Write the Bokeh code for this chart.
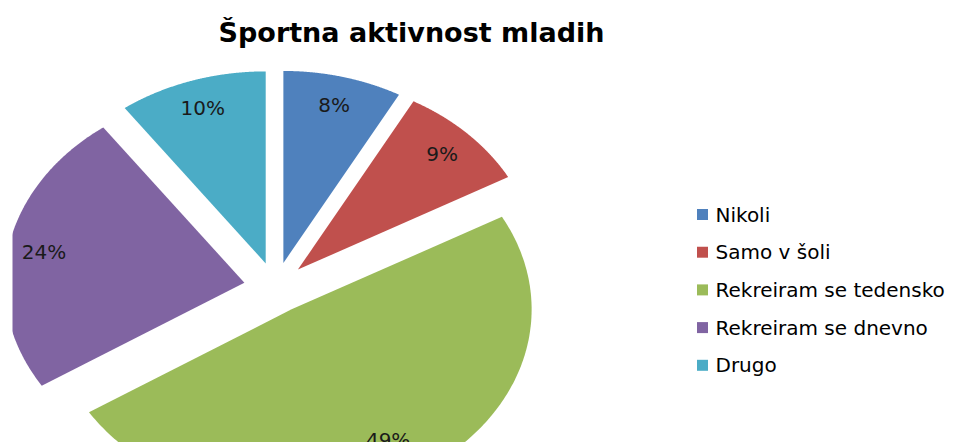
import numpy as np
from bokeh.plotting import figure
from bokeh.models import Range1d, ColumnDataSource
from bokeh.core.properties import value
from bokeh.embed import file_html
from bokeh.resources import INLINE

# ---- data ----
categories = ["Nikoli", "Samo v šoli", "Rekreiram se tedensko", "Rekreiram se dnevno", "Drugo"]
shares = [8, 9, 49, 24, 10]
colors = ["#4F81BD", "#C0504D", "#9BBB59", "#8064A2", "#4BACC6"]
title_text = "Športna aktivnost mladih"

# ---- layout (page pixel coordinates; y measured upward from bottom of window) ----
W_PAGE, H_PAGE = 962, 442
cx, cy = 275, H_PAGE - 287
rx, ry = 240, 192
explode = 0.132
label_r = [0.85, 0.85, 0.79, 0.85, 0.85]

p = figure(width=962, height=442, output_backend="svg", toolbar_location=None,
           x_range=Range1d(12, 962), y_range=Range1d(0, 442),
           x_axis_location=None, y_axis_location=None,
           min_border_left=12, min_border_right=0, min_border_top=0, min_border_bottom=0)
p.grid.visible = False
p.outline_line_color = None
p.background_fill_color = "white"
p.border_fill_color = "white"

vals = np.array(shares, dtype=float)
frac = vals / vals.sum()
ends = np.cumsum(frac) * 2 * np.pi
starts = ends - frac * 2 * np.pi

xs, ys, lx, ly, texts = [], [], [], [], []
for i, (a0, a1) in enumerate(zip(starts, ends)):
    mid = (a0 + a1) / 2
    vx = cx + explode * rx * np.sin(mid)
    vy = cy + explode * ry * np.cos(mid)
    th = np.linspace(a0, a1, 200)
    px = np.concatenate([[vx], vx + rx * np.sin(th)])
    py = np.concatenate([[vy], vy + ry * np.cos(th)])
    xs.append(list(px))
    ys.append(list(py))
    lx.append(vx + label_r[i] * rx * np.sin(mid))
    ly.append(vy + label_r[i] * ry * np.cos(mid))
    texts.append(f"{shares[i]}%")

src = ColumnDataSource(dict(xs=xs, ys=ys, color=colors, cat=categories))
p.patches("xs", "ys", source=src, fill_color="color", line_color=None)

p.text(x=lx, y=ly, text=texts, text_font=value("DejaVu Sans"), text_font_size="20px",
       text_color="#1a1a1a", text_align="center", text_baseline="middle")

# title
p.text(x=[411], y=[H_PAGE - 32], text=[title_text], text_font=value("DejaVu Sans"),
       text_font_size="27px", text_font_style="bold", text_color="black",
       text_align="center", text_baseline="middle")

# legend
leg_y = [H_PAGE - (214 + 37.7 * i) for i in range(len(categories))]
p.rect(x=[702] * len(categories), y=leg_y, width=11, height=11,
       fill_color=colors, line_color=None)
p.text(x=[715] * len(categories), y=leg_y, text=categories, text_font=value("DejaVu Sans"),
       text_font_size="20px", text_color="black", text_align="left",
       text_baseline="middle")

open("out.html", "w").write(file_html(p, INLINE))
